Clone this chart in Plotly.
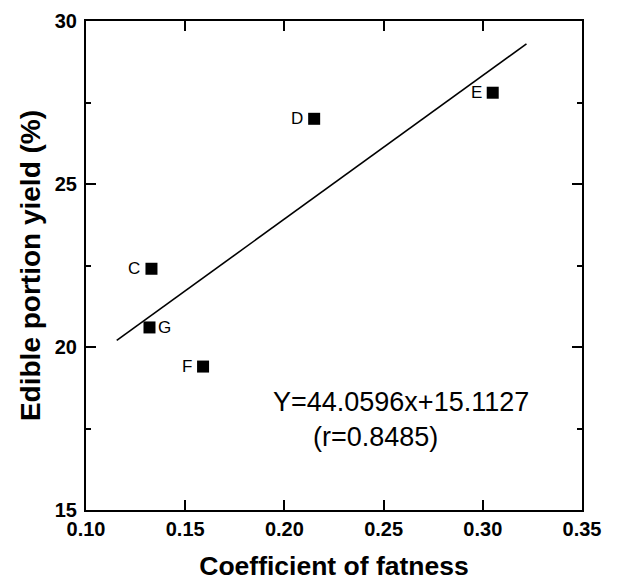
import plotly.graph_objects as go

# Data
labels = ["C", "D", "E", "F", "G"]
fatness = [0.133, 0.215, 0.305, 0.159, 0.132]
yield_pct = [22.4, 27.0, 27.8, 19.4, 20.6]
label_side = ["left", "left", "left", "left", "right"]

slope = 44.0596
intercept = 15.1127
r_value = 0.8485
fit_x = [0.1155, 0.322]
fit_y = [slope * v + intercept for v in fit_x]

x_ticks = [0.10, 0.15, 0.20, 0.25, 0.30, 0.35]
y_ticks = [15, 20, 25, 30]

FONT = "Arial, Liberation Sans, Helvetica, sans-serif"

fig = go.Figure()
fig.add_trace(go.Scatter(
    x=fit_x, y=fit_y, mode="lines",
    line=dict(color="black", width=1.6),
    showlegend=False, hoverinfo="skip",
))
fig.add_trace(go.Scatter(
    x=fatness, y=yield_pct, mode="markers",
    marker=dict(symbol="square", size=12, color="black", line=dict(width=0)),
    showlegend=False,
))

for lab, xv, yv, side in zip(labels, fatness, yield_pct, label_side):
    fig.add_annotation(
        x=xv, y=yv, xref="x", yref="y", text=lab, showarrow=False,
        xanchor="right" if side == "left" else "left", yanchor="middle",
        xshift=-9 if side == "left" else 7,
        font=dict(family=FONT, size=17, color="black"),
    )

fig.add_annotation(x=0.259, y=18.31, xref="x", yref="y",
                   text=f"Y={slope}x+{intercept}", showarrow=False,
                   font=dict(family=FONT, size=27, color="black"),
                   xanchor="center", yanchor="middle")
fig.add_annotation(x=0.2457, y=17.24, xref="x", yref="y",
                   text=f"(r={r_value})", showarrow=False,
                   font=dict(family=FONT, size=27, color="black"),
                   xanchor="center", yanchor="middle")

axis_common = dict(
    showgrid=False, zeroline=False,
    showline=True, linecolor="black", linewidth=2, mirror="ticks",
    ticks="inside", ticklen=10, tickwidth=2, tickcolor="black",
    tickfont=dict(family=FONT, size=20, color="black", weight="bold"),
)

fig.update_xaxes(
    range=[0.10, 0.35], tickvals=x_ticks,
    ticktext=[f"{v:.2f}" for v in x_ticks],
    title=dict(text="<b>Coefficient of fatness</b>", standoff=20,
               font=dict(family=FONT, size=26.5, color="black")),
    ticklabelstandoff=0,
    automargin=False,
    **axis_common,
)
fig.update_yaxes(
    range=[15, 30], tickvals=y_ticks,
    ticktext=[str(v) for v in y_ticks],
    minor=dict(ticks="inside", ticklen=5, tickwidth=2, tickcolor="black", dtick=2.5, tick0=15, showgrid=False),
    title=dict(text="<b>Edible portion yield (%)</b>", standoff=6,
               font=dict(family=FONT, size=28, color="black")),
    ticklabelstandoff=3,
    automargin=False,
    **axis_common,
)

fig.update_layout(
    width=620, height=581,
    margin=dict(l=86, r=38, t=21, b=71),
    paper_bgcolor="white", plot_bgcolor="white",
)

fig.write_html("out.html")
